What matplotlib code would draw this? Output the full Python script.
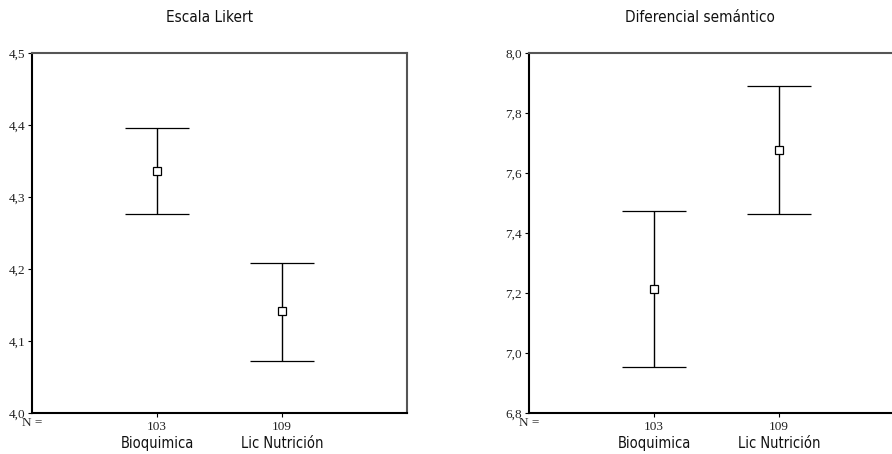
import matplotlib
matplotlib.use("Agg")
import matplotlib.pyplot as plt
from matplotlib import font_manager
from matplotlib.transforms import blended_transform_factory

categories = ["Bioquimica", "Lic Nutrición"]
counts = ["103", "109"]

likert_mean = [4.336, 4.141]
likert_low = [4.277, 4.072]
likert_high = [4.396, 4.209]

difsem_mean = [7.213, 7.677]
difsem_low = [6.955, 7.463]
difsem_high = [7.472, 7.890]

likert_ticks = [4.0, 4.1, 4.2, 4.3, 4.4, 4.5]
difsem_ticks = [6.8, 7.0, 7.2, 7.4, 7.6, 7.8, 8.0]

names = {f.name for f in font_manager.fontManager.ttflist}
narrow = "Liberation Sans Narrow" if "Liberation Sans Narrow" in names else "DejaVu Sans"
serif = "Liberation Serif"

W, H = 892, 454
fig = plt.figure(figsize=(W / 100, H / 100), dpi=100)

def make_axes(left_px, title, title_cx, mean, low, high, ticks):
    ax = fig.add_axes([left_px / W, (H - 413) / H, 375 / W, 360 / H])
    x = [1, 2]
    yerr = [[m - l for m, l in zip(mean, low)], [h - m for m, h in zip(mean, high)]]
    ax.errorbar(x, mean, yerr=yerr, fmt="s", mfc="white", mec="black",
                ms=5.5, mew=0.9, ecolor="black", elinewidth=1.0,
                capsize=32 * 0.72, capthick=1.0, zorder=3)
    ax.set_xlim(0, 3)
    ax.set_ylim(ticks[0], ticks[-1])
    ax.set_yticks(ticks)
    ax.set_yticklabels([f"{t:.1f}".replace(".", ",") for t in ticks],
                       fontfamily=serif, fontsize=9.5, color="#222222")
    ax.set_xticks(x)
    ax.set_xticklabels(counts, fontfamily=serif, fontsize=9.5, color="#222222")
    ax.tick_params(axis="y", length=3, width=0.8, pad=2)
    ax.tick_params(axis="x", length=3, width=0.8, pad=3)
    for s in ["left", "bottom"]:
        ax.spines[s].set_linewidth(1.5)
        ax.spines[s].set_color("black")
    for s in ["top", "right"]:
        ax.spines[s].set_linewidth(1.5)
        ax.spines[s].set_color("#555555")
    tr = blended_transform_factory(ax.transData, ax.transAxes)
    ax.text(0, -0.012, "N =", transform=tr, ha="center", va="top",
            fontfamily=serif, fontsize=9.5, color="#222222")
    for xi, c in zip(x, categories):
        ax.text(xi, -0.065, c, transform=tr, ha="center", va="top",
                fontfamily=narrow, fontstretch="condensed", fontsize=10.5,
                color="#111111")
    fig.text(title_cx / W, 1 - 18 / H, title, ha="center", va="center",
             fontfamily=narrow, fontstretch="condensed", fontsize=11,
             color="#111111")
    return ax

make_axes(32, "Escala Likert", 210, likert_mean, likert_low, likert_high, likert_ticks)
make_axes(529, "Diferencial semántico", 700, difsem_mean, difsem_low, difsem_high, difsem_ticks)

fig.savefig("out.png", dpi=100)
